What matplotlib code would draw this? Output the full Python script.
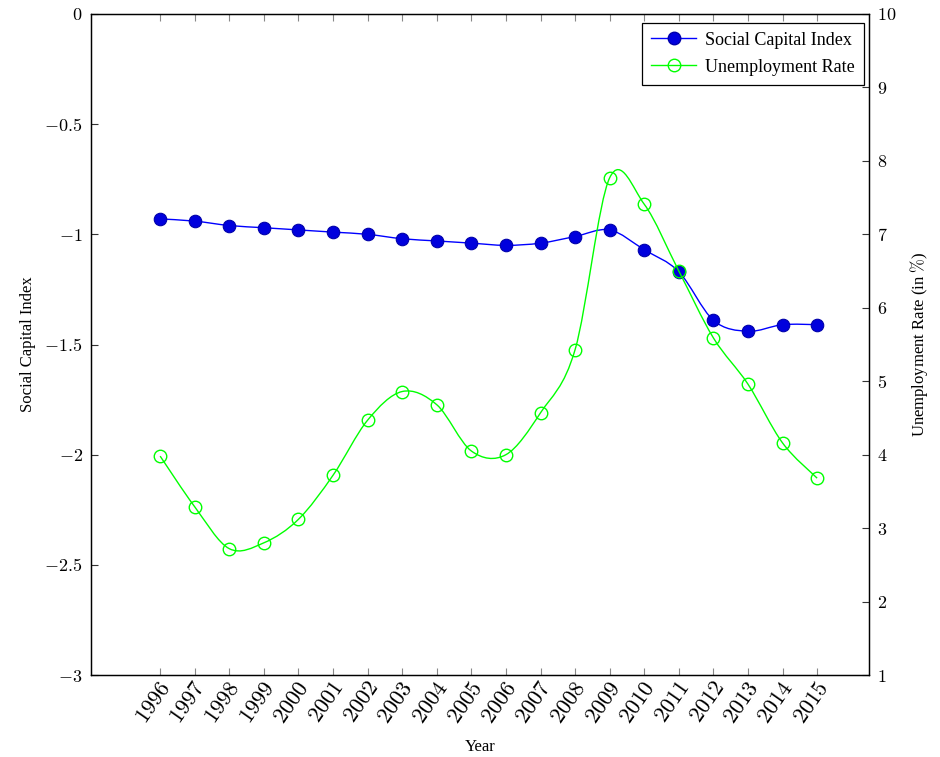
import numpy as np
import matplotlib
matplotlib.use("Agg")
import matplotlib.pyplot as plt
from matplotlib.path import Path
from matplotlib.patches import PathPatch
from matplotlib.lines import Line2D

plt.rcParams['mathtext.fontset'] = 'cm'
plt.rcParams['font.family'] = ['Liberation Serif', 'DejaVu Serif']

years = [1996, 1997, 1998, 1999, 2000, 2001, 2002, 2003, 2004, 2005,
         2006, 2007, 2008, 2009, 2010, 2011, 2012, 2013, 2014, 2015]
social_capital = [-0.93, -0.94, -0.96, -0.97, -0.98, -0.99, -1.00, -1.02, -1.03, -1.04,
                  -1.05, -1.04, -1.01, -0.98, -1.07, -1.17, -1.39, -1.44, -1.41, -1.41]
unemployment = [3.98, 3.29, 2.72, 2.80, 3.12, 3.72, 4.47, 4.86, 4.68, 4.05,
                4.00, 4.57, 5.43, 7.77, 7.41, 6.50, 5.59, 4.96, 4.16, 3.68]

BLUE = '#0000ff'
GREEN = '#00ff00'


def smooth_path(x, y, k=0.165):
    """Cubic Bezier through the points with tangents from neighbours."""
    x = np.asarray(x, float)
    y = np.asarray(y, float)
    n = len(x)
    verts = [(x[0], y[0])]
    codes = [Path.MOVETO]
    for i in range(n - 1):
        i0 = max(i - 1, 0)
        i3 = min(i + 2, n - 1)
        c1 = (x[i] + k * (x[i + 1] - x[i0]), y[i] + k * (y[i + 1] - y[i0]))
        c2 = (x[i + 1] - k * (x[i3] - x[i]), y[i + 1] - k * (y[i3] - y[i]))
        verts += [c1, c2, (x[i + 1], y[i + 1])]
        codes += [Path.CURVE4] * 3
    return Path(verts, codes)


fig = plt.figure(figsize=(9.4, 7.57), dpi=100)
ax = fig.add_axes([91 / 940, 1 - 675 / 757, (869 - 91) / 940, (675 - 14) / 757])
ax2 = ax.twinx()

ax.set_xlim(1994.0, 2016.5)
ax.set_ylim(-3, 0)
ax2.set_ylim(1, 10)

# Social capital series
ax.add_patch(PathPatch(smooth_path(years, social_capital), fill=False,
                       edgecolor=BLUE, lw=1.0, zorder=3))
ax.plot(years, social_capital, ls='none', marker='o', ms=9,
        mfc='#0000dd', mec='#0000aa', mew=0.8, zorder=4)

# Unemployment series
ax2.add_patch(PathPatch(smooth_path(years, unemployment), fill=False,
                        edgecolor=GREEN, lw=1.0, zorder=3))
ax2.plot(years, unemployment, ls='none', marker='o', ms=9,
         mfc='none', mec=GREEN, mew=1.0, zorder=4)

# Axes styling
ax.set_xticks(years)
ax.set_xticklabels([r'$%d$' % y for y in years], rotation=55,
                   ha='right', va='top', rotation_mode='anchor', fontsize=16)
ax.set_yticks([0, -0.5, -1, -1.5, -2, -2.5, -3])
ax.set_yticklabels([r'$%s$' % s for s in ['0', '-0.5', '-1', '-1.5', '-2', '-2.5', '-3']],
                   fontsize=13)
ax2.set_yticks(range(1, 11))
ax2.set_yticklabels([r'$%d$' % v for v in range(1, 11)], fontsize=13)

ax.tick_params(axis='x', direction='in', top=True, length=5, width=0.8,
               color='#888888', pad=3)
ax.tick_params(axis='y', direction='in', length=5, width=0.8, color='#333333', pad=6)
ax2.tick_params(axis='y', direction='in', length=5, width=0.8, color='#333333', pad=6)

for a in (ax, ax2):
    for s in a.spines.values():
        s.set_linewidth(0.9)

ax.set_xlabel('Year', fontsize=12, labelpad=8)
ax.set_ylabel('Social Capital Index', fontsize=12, labelpad=6)
ax2.set_ylabel(r'Unemployment Rate (in $\%$)', fontsize=12, labelpad=8)

handles = [
    Line2D([], [], color=BLUE, lw=1.0, marker='o', ms=9, mfc='#0000dd', mec='#0000aa'),
    Line2D([], [], color=GREEN, lw=1.0, marker='o', ms=9, mfc='none', mec=GREEN),
]
leg = ax2.legend(handles, ['Social Capital Index', 'Unemployment Rate'],
                 loc='upper right', bbox_to_anchor=(0.9985, 0.9925), fontsize=13,
                 frameon=True, fancybox=False, framealpha=1, edgecolor='black',
                 handlelength=2.5, borderpad=0.5, labelspacing=0.55, handletextpad=0.5,
                 borderaxespad=0.2)
leg.get_frame().set_linewidth(0.9)

fig.savefig('out.png', dpi=100)
